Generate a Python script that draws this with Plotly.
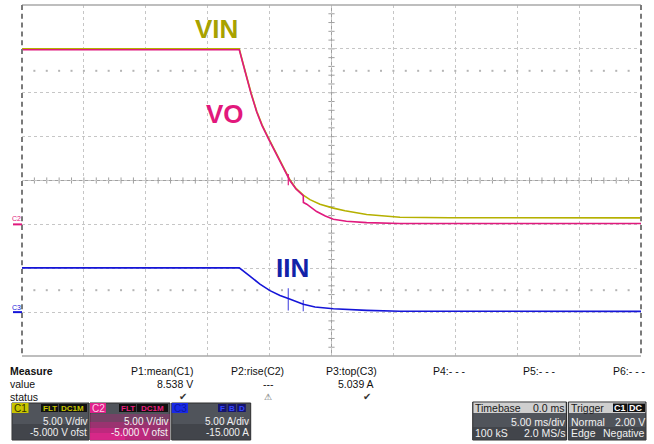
import plotly.graph_objects as go

W, H = 654, 444

def px(x):
    return x / W

def py(y):
    return 1 - y / H

# ---------------- data (read from the screen) ----------------
# time in ms, VIN / VO in volts, IIN in amps
t_vin = [-25, -7.45, -7.15, -6.85, -6.50, -6.04, -5.61, -5.11, -4.65, -4.16, -3.76,
         -3.35, -2.87, -2.28, -1.74, -0.93, 0.15, 1.09, 2.84, 5.53, 9.57, 25]
v_vin = [20.0, 20.0, 18.4, 16.8, 15.0, 12.9, 11.35, 9.9, 8.6, 7.25, 6.15,
         5.05, 4.10, 3.33, 2.82, 2.30, 1.85, 1.55, 1.12, 0.82, 0.75, 0.74]

t_vo = [-25, -7.45, -7.15, -6.85, -6.50, -6.04, -5.61, -5.11, -4.65, -4.16, -3.76,
        -3.35, -2.87, -2.28, -2.27, -2.0, -1.2, -0.5, 0.15, 1.2, 2.84, 5.53, 25]
v_vo = [19.9, 19.9, 18.3, 16.7, 14.9, 12.8, 11.25, 9.8, 8.5, 7.15, 6.05,
        4.97, 4.03, 3.28, 2.5, 2.3, 1.46, 0.95, 0.59, 0.35, 0.2, 0.1, 0.1]

t_iin = [-25, -7.45, -6.59, -5.78, -4.97, -4.16, -3.49, -2.87, -2.28, -1.33,
         0.15, 2.84, 5.53, 25]
a_iin = [5.04, 5.04, 4.10, 3.20, 2.45, 1.90, 1.55, 1.20, 0.90, 0.58,
         0.38, 0.20, 0.10, 0.09]

# measurement marks seen on the traces
iin_mark_t = [-3.49, -2.28]
iin_mark_a = [1.45, 0.75]
vo_mark_t = [-3.49]
vo_mark_v = [5.1]

trigger_level_v = 2.0
trigger_time_ms = 0.0

# channel settings
volts_per_div = 5.0
amps_per_div = 5.0
v_offset = -5.0
a_offset = -15.0

C_VIN = "#b5b000"
C_VO = "#e0197d"
C_IIN = "#1515d8"
FONT = "Liberation Sans, Arial, sans-serif"

v_center = -v_offset
a_center = -a_offset
v_range = [v_center - 4 * volts_per_div, v_center + 4 * volts_per_div]
a_range = [a_center - 4 * amps_per_div, a_center + 4 * amps_per_div]

fig = go.Figure()

# dotted reference rows at +/- 2.5 div
dot_t = [-25 + k for k in range(1, 50)]
for lvl in (v_center + 2.5 * volts_per_div, v_center - 2.5 * volts_per_div):
    fig.add_trace(go.Scatter(x=dot_t, y=[lvl] * len(dot_t), mode="markers",
                             marker=dict(symbol="square", size=2, color="#b4b4b4"),
                             hoverinfo="skip", yaxis="y"))

fig.add_trace(go.Scatter(x=t_vin, y=v_vin, mode="lines", line=dict(color=C_VIN, width=1.6),
                         name="VIN", yaxis="y"))
fig.add_trace(go.Scatter(x=t_vo, y=v_vo, mode="lines", line=dict(color=C_VO, width=1.6),
                         name="VO", yaxis="y"))
fig.add_trace(go.Scatter(x=vo_mark_t, y=vo_mark_v, mode="markers",
                         marker=dict(symbol="line-ns", size=8, line=dict(color=C_VO, width=1.2)),
                         yaxis="y"))
fig.add_trace(go.Scatter(x=t_iin, y=a_iin, mode="lines", line=dict(color=C_IIN, width=1.6),
                         name="IIN", yaxis="y2"))
fig.add_trace(go.Scatter(x=iin_mark_t, y=iin_mark_a, mode="markers",
                         marker=dict(symbol="line-ns", size=[16, 8], line=dict(color=C_IIN, width=1.2)),
                         yaxis="y2"))
# trigger markers
fig.add_trace(go.Scatter(x=[25.45], y=[trigger_level_v], mode="markers", cliponaxis=False,
                         marker=dict(symbol="triangle-left", size=8, color="#c0bc00"), yaxis="y"))
fig.add_trace(go.Scatter(x=[trigger_time_ms], y=[v_range[0] - 0.35], mode="markers", cliponaxis=False,
                         marker=dict(symbol="triangle-up", size=8, color="#c0bc00"), yaxis="y"))

shapes = []
# center cross with ticks
shapes.append(dict(type="line", xref="x", yref="y", x0=0, x1=0, y0=v_range[0], y1=v_range[1],
                   line=dict(color="#a0a0a0", width=1), layer="below"))
shapes.append(dict(type="line", xref="x", yref="y", x0=-25, x1=25, y0=v_center, y1=v_center,
                   line=dict(color="#a0a0a0", width=1), layer="below"))
for k in range(1, 40):
    v = v_range[0] + k
    shapes.append(dict(type="line", xref="x", yref="y", x0=-0.25, x1=0.25, y0=v, y1=v,
                       line=dict(color="#a0a0a0", width=1), layer="below"))
for k in range(1, 50):
    t = -25 + k
    shapes.append(dict(type="line", xref="x", yref="y", x0=t, x1=t, y0=v_center - 0.35, y1=v_center + 0.35,
                       line=dict(color="#a0a0a0", width=1), layer="below"))

# frame
shapes.append(dict(type="line", xref="paper", yref="paper", x0=px(22), x1=px(641), y0=py(5), y1=py(5),
                   line=dict(color="#a8a8a8", width=1.5)))
shapes.append(dict(type="line", xref="paper", yref="paper", x0=px(22), x1=px(641), y0=py(356), y1=py(356),
                   line=dict(color="#a8a8a8", width=1.5)))
for xx in (22, 641):
    shapes.append(dict(type="line", xref="paper", yref="paper", x0=px(xx), x1=px(xx), y0=py(5), y1=py(356),
                       line=dict(color="#7a7a7a", width=2, dash="5px,3.8px")))

# channel ground markers on left edge
shapes.append(dict(type="line", xref="paper", yref="y", x0=px(13), x1=px(22), y0=0, y1=0,
                   line=dict(color=C_VO, width=2)))
shapes.append(dict(type="line", xref="paper", yref="y2", x0=px(13), x1=px(22), y0=0, y1=0,
                   line=dict(color=C_IIN, width=2)))

annotations = []

def txt(x, y, s, anchor="left", size=10.5, color="#111111", bold=False, family=FONT):
    if bold:
        s = "<b>" + s + "</b>"
    annotations.append(dict(xref="paper", yref="paper", x=px(x), y=py(y), text=s,
                            xanchor=anchor, yanchor="middle", showarrow=False,
                            borderpad=0, borderwidth=0,
                            font=dict(family=family, size=size, color=color)))

def rect(x0, y0, x1, y1, fill, line=None, opacity=1.0):
    shapes.append(dict(type="rect", xref="paper", yref="paper", x0=px(x0), x1=px(x1),
                       y0=py(y1), y1=py(y0), fillcolor=fill, opacity=opacity,
                       line=dict(color=line or fill, width=1 if line else 0)))

# big trace labels
txt(216.5, 29, "VIN", anchor="center", size=26, color="#a8a200", bold=True)
txt(225, 114, "VO", anchor="center", size=26, color="#e2187c", bold=True)
txt(292, 267.5, "IIN", anchor="center", size=26, color="#1222a8", bold=True)

# left channel tags
txt(16.5, 219, "C2", anchor="center", size=7, color=C_VO)
txt(16.5, 307, "C3", anchor="center", size=7, color=C_IIN)

# measure table
txt(10, 370.7, "Measure", bold=True)
txt(10, 384, "value")
txt(10, 396.7, "status")
txt(193, 370.7, "P1:mean(C1)", anchor="right")
txt(193, 384, "8.538 V", anchor="right")
txt(183, 396.7, "✔", anchor="center", size=10, color="#333333")
txt(231, 370.7, "P2:rise(C2)")
txt(268, 384, "---", anchor="center")
txt(268, 396.7, "⚠", anchor="center", size=9, color="#555555")
txt(326, 370.7, "P3:top(C3)")
txt(374, 384, "5.039 A", anchor="right")
txt(367, 396.7, "✔", anchor="center", size=10, color="#333333")
txt(433, 370.7, "P4:- - -")
txt(523, 370.7, "P5:- - -")
txt(613, 370.7, "P6:- - -")

# channel boxes
BOX = "#50545b"
DARK = "#3c3f45"
rect(12, 403, 89, 440, BOX, "#2e2e2e")
rect(12, 424, 89, 440, DARK, opacity=0.7)
rect(12, 403, 28.5, 413, "#c8c400")
txt(20.2, 408, "C1", anchor="center", size=10, color="#333300")
rect(41, 404, 58, 412, "#111111")
txt(49.5, 408, "FLT", anchor="center", size=8, color="#c8c400", bold=True)
rect(58.7, 404, 87, 412, "#111111")
txt(72.8, 408, "DC1M", anchor="center", size=8, color="#c8c400", bold=True)
txt(87, 421.5, "5.00 V/div", anchor="right", size=10, color="#f0f0f0")
txt(87, 432.5, "-5.000 V ofst", anchor="right", size=10, color="#f0f0f0")

rect(90, 403, 170, 440, BOX, "#2e2e2e")
rect(90, 414, 170, 440, "#c0207a", opacity=0.35)
rect(90, 422, 170, 440, "#d01f80", opacity=0.4)
rect(90, 428, 150, 440, "#e0208a", opacity=0.5)
rect(90, 433, 125, 440, "#f02894", opacity=0.5)
rect(90, 403, 106, 413, "#e0208a")
txt(98, 408, "C2", anchor="center", size=10, color="#ffd0e8")
rect(119, 404, 136, 412, "#111111")
txt(127.5, 408, "FLT", anchor="center", size=8, color="#e8207f", bold=True)
rect(136.7, 404, 168, 412, "#111111")
txt(152.3, 408, "DC1M", anchor="center", size=8, color="#e8207f", bold=True)
txt(168, 421.5, "5.00 V/div", anchor="right", size=10, color="#f4f4f4")
txt(168, 432.5, "-5.000 V ofst", anchor="right", size=10, color="#f4f4f4")

rect(171.7, 403, 250.7, 440, BOX, "#2e2e2e")
rect(171.7, 424, 250.7, 440, DARK, opacity=0.7)
rect(171.7, 403, 188, 413, "#1a2ae6")
txt(180, 408, "C3", anchor="center", size=10, color="#0c18a0")
for i, letter in enumerate(["F", "B", "D"]):
    x0 = 218 + i * 9.6
    rect(x0, 404, x0 + 8.6, 412, "#14146e")
    txt(x0 + 4.3, 408, letter, anchor="center", size=8, color="#3848ff", bold=True)
txt(249, 421.5, "5.00 A/div", anchor="right", size=10, color="#f0f0f0")
txt(249, 432.5, "-15.000 A", anchor="right", size=10, color="#f0f0f0")

# timebase box
rect(472.7, 402, 566.5, 440, BOX, "#2e2e2e")
rect(472.7, 427, 566.5, 440, DARK, opacity=0.7)
rect(473.5, 402.5, 565.7, 413, "#cfcfcf")
txt(475, 408, "Timebase", size=10.5, color="#1a1a1a")
txt(565, 408, "0.0 ms", anchor="right", size=10.5, color="#1a1a1a")
txt(565, 421.5, "5.00 ms/div", anchor="right", size=10.5, color="#f0f0f0")
txt(475, 433, "100 kS", size=10.5, color="#f0f0f0")
txt(565, 433, "2.0 MS/s", anchor="right", size=10.5, color="#f0f0f0")

# trigger box
rect(568.3, 402, 646, 440, BOX, "#2e2e2e")
rect(568.3, 427, 646, 440, DARK, opacity=0.7)
rect(569, 402.5, 645.3, 413, "#cfcfcf")
txt(570.5, 408, "Trigger", size=10.5, color="#1a1a1a")
rect(613, 403.5, 627, 412, "#111111")
txt(620, 408, "C1", anchor="center", size=9, color="#ffffff", bold=True)
rect(627.5, 403.5, 645, 412, "#111111")
txt(636.2, 408, "DC", anchor="center", size=9, color="#ffffff", bold=True)
txt(570.5, 421.5, "Normal", size=10.5, color="#f0f0f0")
txt(645, 421.5, "2.00 V", anchor="right", size=10.5, color="#f0f0f0")
txt(570.5, 433, "Edge", size=10.5, color="#f0f0f0")
txt(645, 433, "Negative", anchor="right", size=10.5, color="#f0f0f0")

grid = dict(showgrid=True, gridcolor="#c6c6c6", griddash="dot", gridwidth=1,
            showticklabels=False, ticks="", zeroline=False, showline=False)

fig.update_layout(
    width=W, height=H, autosize=False,
    margin=dict(l=0, r=0, t=0, b=0),
    paper_bgcolor="white", plot_bgcolor="white",
    showlegend=False, hovermode=False,
    xaxis=dict(domain=[px(22), px(641)], range=[-25, 25], tick0=-25, dtick=5, **grid),
    yaxis=dict(domain=[py(356), py(5)], range=v_range, tick0=v_range[0], dtick=volts_per_div, **grid),
    yaxis2=dict(overlaying="y", range=a_range, visible=False, showgrid=False),
    shapes=shapes,
    annotations=annotations,
)

fig.write_html("out.html", config={"displayModeBar": False},
               post_script="document.body.style.margin='0';document.body.style.overflow='hidden';")
